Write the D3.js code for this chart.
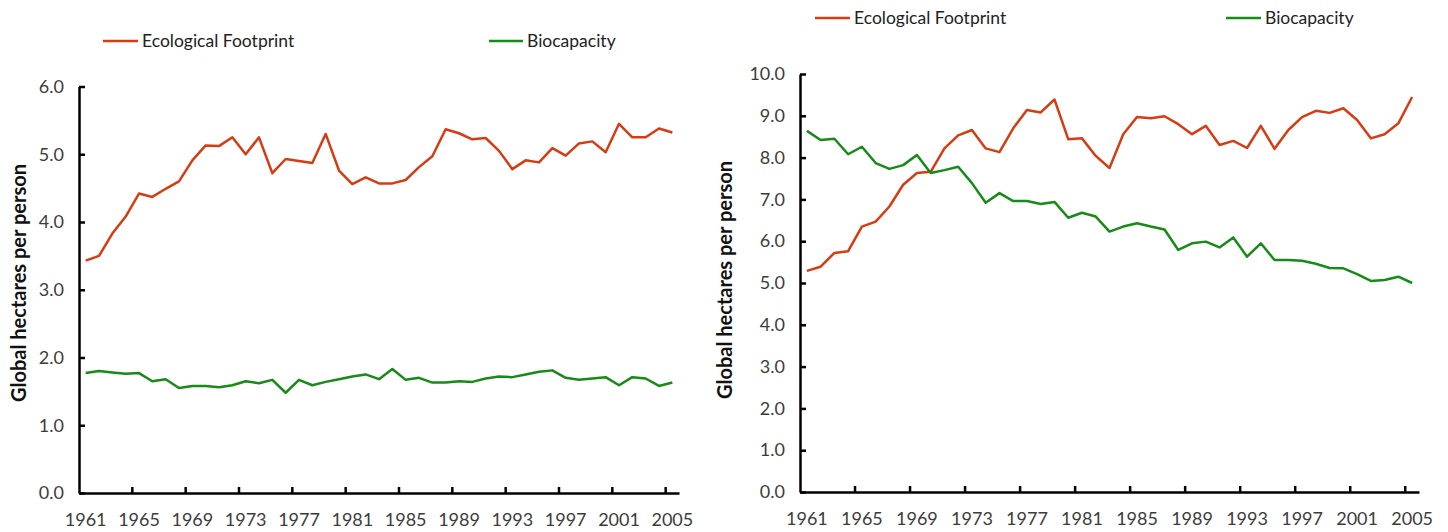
<!DOCTYPE html>
<html>
  <head>
    <meta charset="utf-8">
    <title>Ecological Footprint and Biocapacity</title>
    <script src="https://cdnjs.cloudflare.com/ajax/libs/d3/7.8.5/d3.min.js"></script>
    <style>
      body { margin: 0; background: #fff; }
      svg { display: block; }
      .domain { stroke: #000; stroke-width: 2.5px; }
      .tick line { stroke: #000; stroke-width: 2.5px; }
      .tick text { font-family: Lato, "DejaVu Sans", sans-serif; font-size: 18px; fill: #3c3c3c; }
      .title { font-family: Lato, "DejaVu Sans", sans-serif; font-size: 20px; font-weight: bold; fill: #111; }
      .legend text { font-family: Lato, "DejaVu Sans", sans-serif; font-size: 17.5px; fill: #222; }
      .line { fill: none; stroke-width: 2.5px; stroke-linejoin: round; }
    </style>
  </head>
  <body>
    <svg id="chart" width="1448" height="532"></svg>
    <script>
      // data
      var years = d3.range(1961, 2006);
      var seriesNames = ["Ecological Footprint", "Biocapacity"];
      var colours = ["#d63c14", "#178a17"];
      var leftFootprint = [3.43, 3.50, 3.83, 4.08, 4.42, 4.37, 4.49, 4.60, 4.91, 5.13,
                           5.12, 5.25, 5.00, 5.25, 4.72, 4.93, 4.90, 4.87, 5.30, 4.76,
                           4.56, 4.66, 4.57, 4.57, 4.62, 4.81, 4.97, 5.37, 5.31, 5.22,
                           5.24, 5.05, 4.78, 4.91, 4.88, 5.09, 4.98, 5.16, 5.19, 5.03,
                           5.45, 5.25, 5.25, 5.38, 5.32];
      var leftBiocapacity = [1.77, 1.80, 1.78, 1.76, 1.77, 1.65, 1.68, 1.55, 1.58, 1.58,
                             1.56, 1.59, 1.65, 1.62, 1.67, 1.48, 1.67, 1.59, 1.64, 1.68,
                             1.72, 1.75, 1.68, 1.83, 1.67, 1.70, 1.63, 1.63, 1.65, 1.64,
                             1.69, 1.72, 1.71, 1.75, 1.79, 1.81, 1.70, 1.67, 1.69, 1.71,
                             1.59, 1.71, 1.69, 1.58, 1.63];
      var rightFootprint = [5.29, 5.39, 5.72, 5.76, 6.35, 6.47, 6.83, 7.35, 7.63, 7.66,
                            8.22, 8.53, 8.66, 8.22, 8.13, 8.70, 9.14, 9.08, 9.39, 8.44,
                            8.46, 8.04, 7.75, 8.56, 8.97, 8.94, 8.99, 8.80, 8.56, 8.76,
                            8.30, 8.40, 8.23, 8.76, 8.21, 8.66, 8.97, 9.12, 9.07, 9.18,
                            8.90, 8.46, 8.56, 8.82, 9.45];
      var rightBiocapacity = [8.64, 8.42, 8.45, 8.08, 8.26, 7.87, 7.73, 7.82, 8.06, 7.63,
                              7.70, 7.78, 7.39, 6.92, 7.15, 6.96, 6.96, 6.89, 6.94, 6.56,
                              6.68, 6.59, 6.23, 6.35, 6.43, 6.35, 6.28, 5.79, 5.95, 5.99,
                              5.85, 6.09, 5.63, 5.95, 5.55, 5.55, 5.53, 5.46, 5.36, 5.35,
                              5.21, 5.05, 5.07, 5.15, 5.00];
      var leftTicks = [0, 1, 2, 3, 4, 5, 6];
      var rightTicks = [0, 1, 2, 3, 4, 5, 6, 7, 8, 9, 10];

      var svg = d3.select("#chart");

      drawChart({
        x0: 79, x1: 679, yTop: 86.5, yBottom: 493, max: 6, ticks: leftTicks,
        series: [leftFootprint, leftBiocapacity],
        titleX: 19, titleY: 283,
        legend: [[103, 142], [489, 527]], legendY: 41
      });
      drawChart({
        x0: 800, x1: 1419, yTop: 74, yBottom: 492, max: 10, ticks: rightTicks,
        series: [rightFootprint, rightBiocapacity],
        titleX: 725, titleY: 280,
        legend: [[815, 854], [1226, 1265]], legendY: 18
      });

      function drawChart(c) {
        var g = svg.append("g");
        var x = d3.scaleBand()
          .domain(years)
          .range([c.x0, c.x1]);
        var y = d3.scaleLinear()
          .domain([0, c.max])
          .range([c.yBottom, c.yTop]);
        var half = x.bandwidth() / 2;

        // y axis
        g.append("g")
          .attr("transform", "translate(" + c.x0 + ",0)")
          .call(d3.axisLeft(y)
            .tickValues(c.ticks)
            .tickFormat(d3.format(".1f"))
            .tickSizeInner(-6)
            .tickSizeOuter(0)
            .tickPadding(15));

        // x axis: labels at every 4th year, ticks on the category edges
        var labelYears = years.filter(function(d, i) { return i % 4 == 0; });
        var xAxis = g.append("g")
          .attr("transform", "translate(0," + c.yBottom + ")")
          .call(d3.axisBottom(x)
            .tickValues(labelYears)
            .tickSize(0)
            .tickSizeOuter(0)
            .tickPadding(20));
        xAxis.selectAll(".edge")
            .data(labelYears.slice(1))
          .enter().append("line")
            .attr("class", "edge")
            .attr("x1", function(d) { return x(d); })
            .attr("x2", function(d) { return x(d); })
            .attr("y1", 0)
            .attr("y2", -6)
            .attr("stroke", "#000")
            .attr("stroke-width", 2.5);

        // axis title
        g.append("text")
          .attr("class", "title")
          .attr("text-anchor", "middle")
          .attr("transform", "translate(" + c.titleX + "," + c.titleY + ") rotate(-90)")
          .attr("dy", "0.35em")
          .text("Global hectares per person");

        // lines
        var line = d3.line()
          .x(function(d, i) { return x(years[i]) + half; })
          .y(function(d) { return y(d); });
        c.series.forEach(function(s, k) {
          g.append("path")
            .datum(s)
            .attr("class", "line")
            .attr("stroke", colours[k])
            .attr("d", line);
        });

        // legend
        var legend = g.append("g").attr("class", "legend");
        seriesNames.forEach(function(name, k) {
          legend.append("line")
            .attr("x1", c.legend[k][0])
            .attr("x2", c.legend[k][1] - 4)
            .attr("y1", c.legendY)
            .attr("y2", c.legendY)
            .attr("stroke", colours[k])
            .attr("stroke-width", 2.5);
          legend.append("text")
            .attr("x", c.legend[k][1])
            .attr("y", c.legendY)
            .attr("dy", "0.35em")
            .text(name);
        });
      }
    </script>
  </body>
</html>
